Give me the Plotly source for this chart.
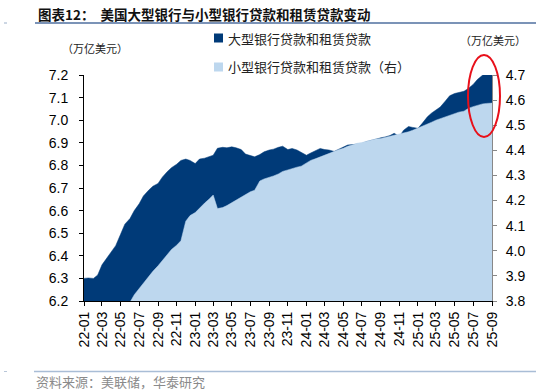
import pandas as pd
import plotly.graph_objects as go

# ---- data (semi-monthly readings, trillion USD) ----
large_banks = [
    6.300, 6.302, 6.300, 6.315, 6.360, 6.385, 6.415, 6.445, 6.495, 6.540,
    6.565, 6.600, 6.630, 6.665, 6.690, 6.708, 6.720, 6.748, 6.772, 6.790,
    6.805, 6.822, 6.828, 6.822, 6.808, 6.828, 6.832, 6.838, 6.845, 6.876,
    6.880, 6.878, 6.882, 6.878, 6.870, 6.850, 6.845, 6.838, 6.848, 6.860,
    6.868, 6.872, 6.880, 6.885, 6.870, 6.875, 6.868, 6.858, 6.845, 6.855,
    6.868, 6.875, 6.870, 6.868, 6.862, 6.872, 6.880, 6.890, 6.892, 6.895,
    6.897, 6.905, 6.912, 6.915, 6.922, 6.926, 6.932, 6.942, 6.928, 6.956,
    6.972, 6.968, 6.964, 6.986, 7.015, 7.032, 7.047, 7.058, 7.085, 7.108,
    7.118, 7.124, 7.128, 7.140, 7.158, 7.180, 7.200, 7.215, 7.220,
]
small_banks = [
    3.700, 3.700, 3.700, 3.710, 3.710, 3.720, 3.730, 3.740, 3.750, 3.770,
    3.795, 3.825, 3.850, 3.872, 3.895, 3.918, 3.940, 3.960, 3.985, 4.005,
    4.022, 4.040, 4.118, 4.140, 4.152, 4.170, 4.190, 4.205, 4.222, 4.168,
    4.172, 4.180, 4.192, 4.200, 4.212, 4.225, 4.235, 4.241, 4.278, 4.286,
    4.292, 4.298, 4.306, 4.316, 4.322, 4.328, 4.333, 4.337, 4.350, 4.360,
    4.367, 4.374, 4.382, 4.389, 4.396, 4.402, 4.408, 4.416, 4.422, 4.428,
    4.431, 4.436, 4.440, 4.445, 4.447, 4.451, 4.456, 4.460, 4.464, 4.468,
    4.474, 4.480, 4.488, 4.497, 4.505, 4.512, 4.520, 4.526, 4.532, 4.538,
    4.547, 4.552, 4.556, 4.567, 4.574, 4.580, 4.585, 4.587, 4.588,
]
dates = pd.date_range("2022-01-01", periods=len(large_banks), freq="SMS")

left_ticks = [6.2, 6.3, 6.4, 6.5, 6.6, 6.7, 6.8, 6.9, 7.0, 7.1, 7.2]
right_ticks = [3.8, 3.9, 4.0, 4.1, 4.2, 4.3, 4.4, 4.5, 4.6, 4.7]

name_large = "大型银行贷款和租赁贷款"
name_small = "小型银行贷款和租赁贷款（右）"
title_text = "图表12：  美国大型银行与小型银行贷款和租赁贷款变动"
unit_text = "（万亿美元）"
source_text = "资料来源：美联储，华泰研究"

DARK = "#003a78"
LIGHT = "#bdd7ee"
CJK = "Noto Sans CJK SC"
NUM = "Liberation Sans, Arial"

fig = go.Figure()
fig.add_trace(go.Scatter(x=dates, y=large_banks, mode="lines", fill="tozeroy",
                         line=dict(color=DARK, width=0.5), fillcolor=DARK,
                         name=name_large, showlegend=False, yaxis="y",
                         hoverinfo="skip"))
fig.add_trace(go.Scatter(x=dates, y=small_banks, mode="lines", fill="tozeroy",
                         line=dict(color=LIGHT, width=0.5), fillcolor=LIGHT,
                         name=name_small, showlegend=False, yaxis="y2",
                         hoverinfo="skip"))

W, H = 536, 392
L, R, T, B = 84, 44, 75, 91
pw, ph = W - L - R, H - T - B

def px(x):
    return (x - L) / pw

def py(y):
    return (H - B - y) / ph

def txt(text, x, y, size, color, anchor="left", family=CJK):
    return dict(text=text, xref="paper", yref="paper", x=px(x), y=py(y),
                xanchor=anchor, yanchor="middle", showarrow=False,
                font=dict(family=family, size=size, color=color))

def swatch(x, y, color):
    return dict(type="rect", xref="paper", yref="paper",
                x0=px(x), x1=px(x + 9), y0=py(y + 4.5), y1=py(y - 4.5),
                fillcolor=color, line=dict(width=0))

fig.update_layout(
    width=W, height=H,
    margin=dict(l=L, r=R, t=T, b=B),
    paper_bgcolor="white", plot_bgcolor="white",
    showlegend=False,
    xaxis=dict(type="date", range=[dates[0], dates[-1]],
               tick0="2022-01-01", dtick="M2", tickformat="%y-%m",
               tickangle=-90, ticks="outside", ticklen=4, tickcolor="black",
               showline=True, linecolor="black", linewidth=1,
               showgrid=False, zeroline=False, automargin=False,
               tickfont=dict(family=NUM, size=14, color="black")),
    yaxis=dict(range=[6.2, 7.2], tickvals=left_ticks, tickformat=".1f",
               ticks="outside", ticklen=4, tickcolor="black",
               showline=True, linecolor="black", linewidth=1,
               showgrid=False, zeroline=False, ticklabelstandoff=8,
               automargin=False,
               tickfont=dict(family=NUM, size=14, color="black")),
    yaxis2=dict(range=[3.8, 4.7], tickvals=right_ticks, tickformat=".1f",
                overlaying="y", side="right",
                ticks="outside", ticklen=4, tickcolor="#888",
                showline=True, linecolor="#888", linewidth=1,
                showgrid=False, zeroline=False, ticklabelstandoff=6,
                automargin=False,
                tickfont=dict(family=NUM, size=14, color="black")),
    shapes=[
        dict(type="line", xref="paper", yref="paper", x0=px(35), x1=px(536),
             y0=py(23), y1=py(23), line=dict(color="#4f6f9f", width=1.5)),
        dict(type="line", xref="paper", yref="paper", x0=px(4), x1=px(7),
             y0=py(23), y1=py(23), line=dict(color="#9aaec8", width=1)),
        dict(type="line", xref="paper", yref="paper", x0=px(34), x1=px(536),
             y0=py(371.5), y1=py(371.5), line=dict(color="#a9bdd6", width=1.5)),
        dict(type="line", xref="paper", yref="paper", x0=px(4), x1=px(7),
             y0=py(371.5), y1=py(371.5), line=dict(color="#b8c6d8", width=1)),
        dict(type="circle", xref="paper", yref="paper", x0=px(468), x1=px(500),
             y0=py(137), y1=py(55), line=dict(color="#e8101a", width=2)),
        swatch(214, 38, DARK),
        swatch(214, 67, LIGHT),
    ],
    annotations=[
        txt("<b>" + title_text + "</b>", 36, 14, 13.5, "#111"),
        txt(unit_text, 60, 48, 11, "#222"),
        txt(unit_text, 458, 40, 11, "#222"),
        txt(source_text, 34, 381.5, 13, "#8a8a8a"),
        txt(name_large, 226, 38, 13, "#222"),
        txt(name_small, 226, 67, 13, "#222"),
    ],
)

fig.write_html("out.html",
               config=dict(displayModeBar=False, staticPlot=True),
               post_script="document.body.style.margin='0px';"
                           "document.body.style.overflow='hidden';")
